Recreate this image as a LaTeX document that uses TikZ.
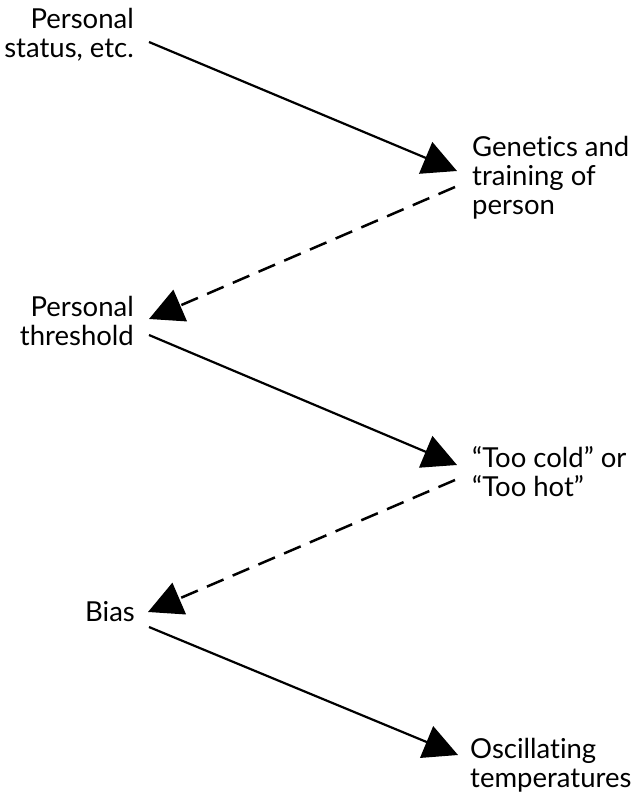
\documentclass[tikz,border=0pt]{standalone}
\usepackage{fontspec}
\setmainfont{Lato}[Ligatures=NoCommon]
\usetikzlibrary{arrows.meta}
\tikzset{
  lbl/.style={inner sep=0pt, font=\fontsize{27.5}{29}\selectfont},
  lft/.style={lbl, align=right, anchor=east},
  rgt/.style={lbl, align=left, anchor=west},
  conn/.style={line width=2.2pt, -{Triangle[length=34pt,width=34pt]}},
  dconn/.style={conn, line width=2.5pt, dash pattern=on 18pt off 10pt}
}
\begin{document}
\begin{tikzpicture}[x=1pt,y=1pt]
\useasboundingbox (0,0) rectangle (640,-794);
\node[lft] (a) at (134,-35) {Personal\\status, etc.};
\node[rgt] (b) at (472,-178) {Genetics and\\training of\\person};
\node[lft] (c) at (134,-321) {Personal\\threshold};
\node[rgt] (d) at (472,-472) {“Too cold” or\\“Too hot”};
\node[lft] (e) at (135,-612) {Bias};
\node[rgt] (f) at (470,-765) {Oscillating\\temperatures};
\draw[conn] ([shift={(15,-7)}]a.east) -- ([shift={(-15,7)}]b.west);
\draw[dconn] ([shift={(-17,-9)}]b.west) -- ([shift={(15,2)}]c.east);
\draw[conn] ([shift={(15,-14)}]c.east) -- ([shift={(-15,7)}]d.west);
\draw[dconn] ([shift={(-17,-8)}]d.west) -- ([shift={(13,0)}]e.east);
\draw[conn] ([shift={(14,-15)}]e.east) -- ([shift={(-12,10)}]f.west);
\end{tikzpicture}
\end{document}
